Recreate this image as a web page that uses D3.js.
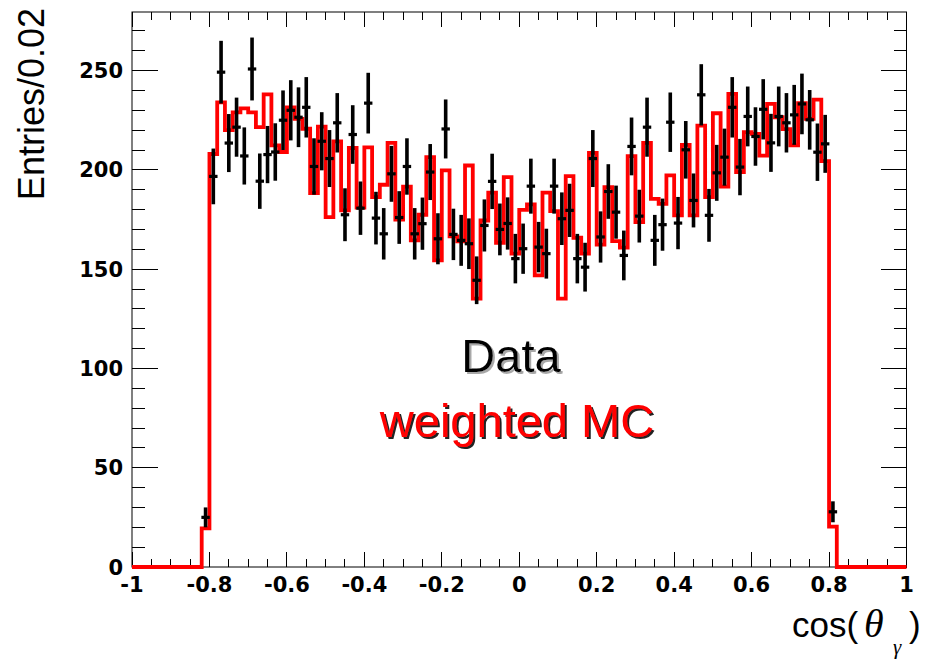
<!DOCTYPE html>
<html>
<head>
<meta charset="utf-8">
<script src="https://cdn.jsdelivr.net/npm/d3@7/dist/d3.min.js"></script>
<style>
  html, body { margin: 0; padding: 0; background: #fff; }
  svg { display: block; }
</style>
</head>
<body>
<svg id="chart" width="925" height="662"></svg>
<script>
// ---- data (bins of width 0.02, from -0.82 to 0.82) ----
const binLow = -0.82;
const binWidth = 0.02;
const mcValues = [
  19.5, 208, 234, 220, 229, 231, 229, 221.5, 238, 212.3,
  209, 231.5, 225.7, 220.7, 188.3, 221.8, 176.2, 214.3, 179.6, 211,
  181, 211.3, 186.3, 192.5, 213.6, 175, 191.6, 164.5, 177.4, 206.4,
  154.4, 199.7, 166.5, 164, 202.2, 135.2, 174.5, 188.5, 163.3, 196.3,
  157.8, 179.9, 182.6, 146.9, 188.5, 179.2, 135.2, 196.8, 165.8, 157.8,
  208.6, 162.3, 191.3, 164.1, 160.8, 206.9, 173.7, 213.6, 185.4, 182.9,
  197.2, 177.1, 212.6, 177.1, 222.3, 186.3, 228.5, 191.6, 238.3, 198.9,
  219, 218.1, 207.2, 233.2, 226.5, 220.5, 212.3, 233.6, 225.7, 235.4,
  204.4, 20.3
];
const dataValues = [
  25, 196.7, 249.2, 213.5, 221.5, 207, 250.8, 194.3, 207.7, 209,
  225, 230, 226.5, 231.5, 201.7, 214.4, 205.7, 223.7, 177.4, 217.8,
  180.7, 233.6, 175.7, 167.8, 198, 176, 201.7, 167.8, 172.9, 198.9,
  165.3, 220.6, 167.5, 164.5, 162.8, 144.4, 172, 194.2, 170, 173,
  155.3, 160.3, 191.8, 161.1, 157.8, 191.8, 175.4, 179.6, 155.3, 151,
  205.7, 166.2, 189.1, 178.7, 156.9, 211.8, 176.7, 221.5, 164.5, 172.4,
  224, 173.2, 210.1, 184.6, 237.8, 177.1, 198.5, 206.4, 231.5, 201.4,
  226.9, 216.8, 230.5, 213.6, 226.9, 223.7, 227.7, 233.2, 225.2, 208.9,
  213.1, 27.8
];
const xTickLabels = ["-1", "-0.8", "-0.6", "-0.4", "-0.2", "0", "0.2", "0.4", "0.6", "0.8", "1"];
const xTickValues = [-1, -0.8, -0.6, -0.4, -0.2, 0, 0.2, 0.4, 0.6, 0.8, 1];
const yTickValues = [0, 50, 100, 150, 200, 250];
const yTickLabels = ["0", "50", "100", "150", "200", "250"];

// ---- layout ----
const svg = d3.select("#chart");
const L = 132, R = 906.5, T = 12, B = 567;
const x = d3.scaleLinear().domain([-1, 1]).range([L, R]);
const y = d3.scaleLinear().domain([0, 279.5]).range([B, T]);

// shadow filters
const defs = svg.append("defs");
[["shGray", "#a8a8a8"], ["shDark", "#222222"]].forEach(([id, col]) => {
  const f = defs.append("filter").attr("id", id)
    .attr("x", "-10%").attr("y", "-20%").attr("width", "130%").attr("height", "150%");
  f.append("feDropShadow").attr("dx", 2).attr("dy", 2).attr("stdDeviation", 0.3)
    .attr("flood-color", col).attr("flood-opacity", 1);
});

// frame
svg.append("rect").attr("x", L).attr("y", T).attr("width", R - L).attr("height", B - T)
  .attr("fill", "none").attr("stroke", "#000").attr("stroke-width", 1);

// ticks (all four sides)
const gt = svg.append("g").attr("stroke", "#000").attr("stroke-width", 1).attr("shape-rendering", "crispEdges");
const xMinor = d3.range(0, 41).map(i => -1 + i * 0.05);
const yMinor = d3.range(0, 28).map(i => i * 10);
xMinor.forEach(v => {
  const major = Math.abs(Math.round(v / 0.2) * 0.2 - v) < 1e-6;
  const len = major ? 15 : 7.7;
  gt.append("line").attr("x1", x(v)).attr("x2", x(v)).attr("y1", B).attr("y2", B - len);
  gt.append("line").attr("x1", x(v)).attr("x2", x(v)).attr("y1", T).attr("y2", T + len);
});
yMinor.forEach(v => {
  const major = v % 50 === 0;
  const len = major ? 26 : 13;
  gt.append("line").attr("x1", L).attr("x2", L + len).attr("y1", y(v)).attr("y2", y(v));
  gt.append("line").attr("x1", R).attr("x2", R - len).attr("y1", y(v)).attr("y2", y(v));
});

// tick labels
const tickFont = "'DejaVu Sans', sans-serif";
svg.append("g").selectAll("text").data(xTickValues).join("text")
  .attr("x", d => x(d)).attr("y", 592)
  .attr("text-anchor", "middle")
  .attr("font-family", tickFont).attr("font-weight", "bold").attr("font-size", 21)
  .text((d, i) => xTickLabels[i]);
svg.append("g").selectAll("text").data(yTickValues).join("text")
  .attr("x", 123).attr("y", d => y(d) + 7.5)
  .attr("text-anchor", "end")
  .attr("font-family", tickFont).attr("font-weight", "bold").attr("font-size", 21)
  .text((d, i) => yTickLabels[i]);

// axis titles
svg.append("text")
  .attr("transform", "translate(44,8) rotate(-90)")
  .attr("text-anchor", "end")
  .attr("font-family", "'Liberation Sans', Arial, sans-serif").attr("font-size", 36)
  .text("Entries/0.02");
const xt = svg.append("text").attr("font-family", "'Liberation Sans', Arial, sans-serif").attr("font-size", 35);
xt.append("tspan").attr("x", 792).attr("y", 637).text("cos(");
xt.append("tspan").attr("x", 864).attr("y", 637).attr("font-family", "'Liberation Serif', serif")
  .attr("font-style", "italic").attr("font-size", 40).text("θ");
xt.append("tspan").attr("x", 893).attr("y", 654).attr("font-family", "'Liberation Serif', serif")
  .attr("font-style", "italic").attr("font-size", 21).text("γ");
xt.append("tspan").attr("x", 909).attr("y", 637).text(")");

// MC histogram (step outline)
const histPts = [[-1, 0], [binLow, 0]];
mcValues.forEach((v, i) => {
  const lo = binLow + i * binWidth, hi = lo + binWidth;
  histPts.push([lo, v], [hi, v]);
});
histPts.push([binLow + mcValues.length * binWidth, 0], [1, 0]);
svg.append("path")
  .attr("d", d3.line().x(d => x(d[0])).y(d => y(d[1]))(histPts))
  .attr("fill", "none").attr("stroke", "#ff0000").attr("stroke-width", 3.8)
  .attr("stroke-linejoin", "miter");

// data points with Poisson errors
const gd = svg.append("g").attr("fill", "#000");
dataValues.forEach((v, i) => {
  const cx = x(binLow + (i + 0.5) * binWidth);
  const e = Math.sqrt(v);
  gd.append("rect").attr("x", cx - 1.8).attr("width", 3.6)
    .attr("y", y(v + e)).attr("height", y(v - e) - y(v + e));
  gd.append("rect").attr("x", cx - 4.2).attr("width", 8.4)
    .attr("y", y(v) - 1.6).attr("height", 3.2);
});

// labels with drop shadows
svg.append("text").attr("x", 511).attr("y", 372).attr("text-anchor", "middle")
  .attr("font-family", "'Liberation Sans', Arial, sans-serif").attr("font-size", 47)
  .attr("fill", "#000").attr("filter", "url(#shGray)").text("Data");
svg.append("text").attr("x", 517).attr("y", 437).attr("text-anchor", "middle")
  .attr("font-family", "'Liberation Sans', Arial, sans-serif").attr("font-size", 47)
  .attr("fill", "#ff0000").attr("filter", "url(#shDark)").text("weighted MC");
</script>
</body>
</html>
